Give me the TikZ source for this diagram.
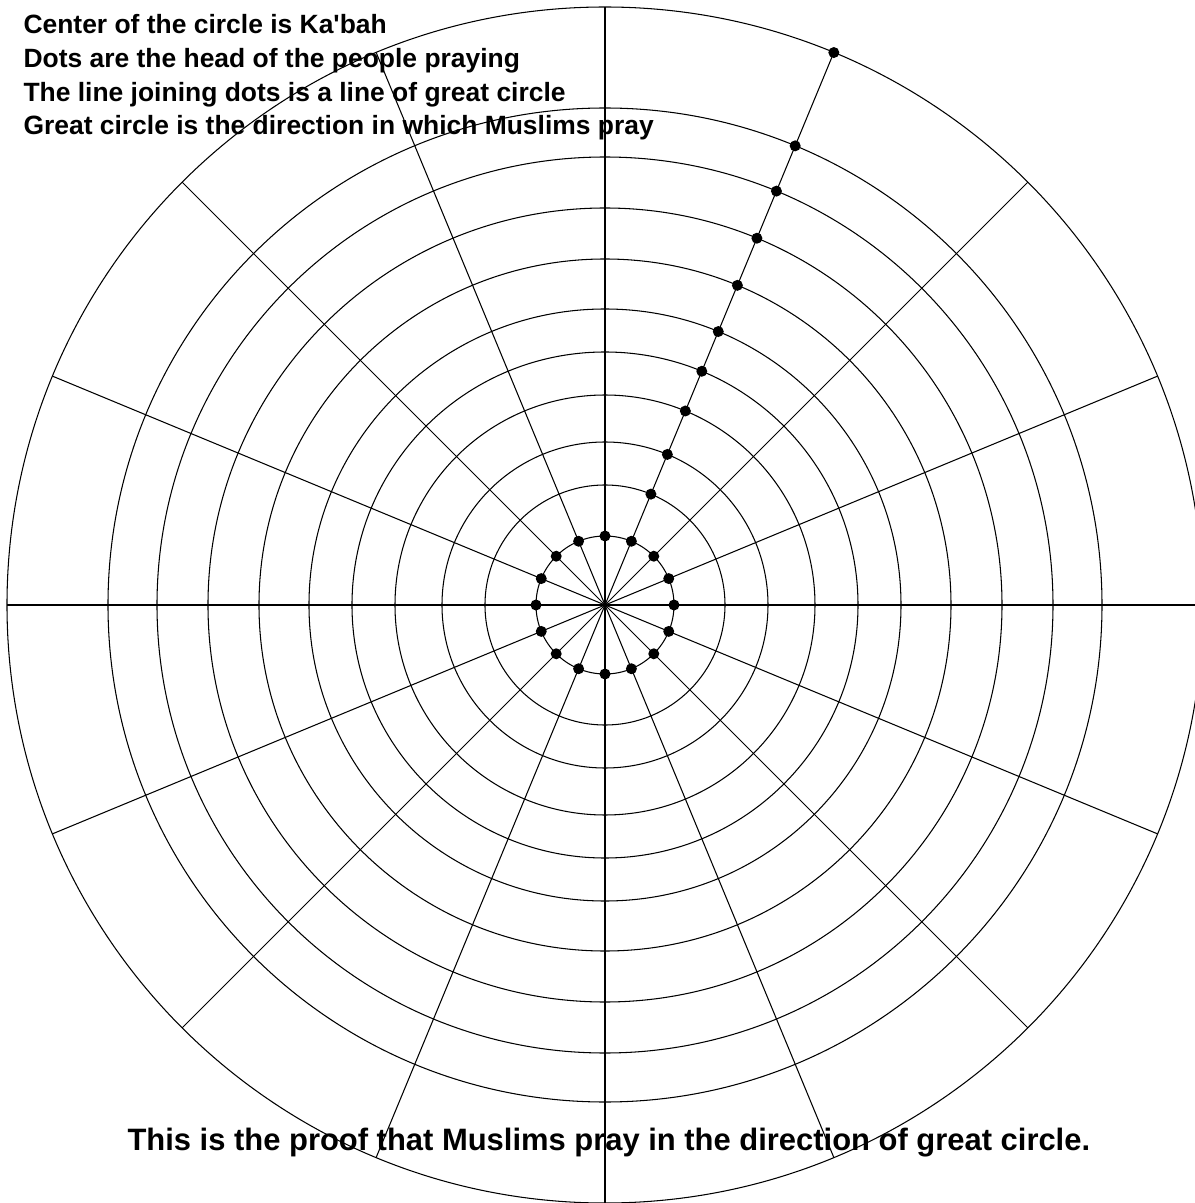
\documentclass[tikz,border=0pt]{standalone}
\usepackage{fontspec}
\setmainfont{Liberation Sans}
\begin{document}
\begin{tikzpicture}[x=0.025cm, y=0.025cm, line width=0.75pt,
  every node/.style={inner sep=0pt},
  note/.style={anchor=base west, font=\fontsize{18.8}{22}\selectfont\bfseries},
  headdot/.style={fill=black}]
\useasboundingbox (-605,-598) rectangle (590,605);
\clip (-605,-598) rectangle (590,605);
\coordinate (kabah) at (0,0);
% rings of people round the Ka'bah
\foreach \r in {69,120,163,210,253,296,346,397,448,497,598} \draw (kabah) circle (\r);
% sixteen great circle lines
\foreach \a in {0,22.5,...,337.5} \draw (kabah) -- (\a:598);
% heads on the first ring
\foreach \a in {0,22.5,...,337.5} \fill[headdot] (\a:69) circle (5.5);
% heads along one line
\foreach \r in {120,163,210,253,296,346,397,448,497,598} \fill[headdot] (67.5:\r) circle (5.5);
% notes
\node[note] (note1) at (-582,571.5) {Center of the circle is Ka\textquotesingle bah};
\node[note] (note2) at (-582,537.5) {Dots are the head of the people praying};
\node[note] (note3) at (-582,503.5) {The line joining dots is a line of great circle};
\node[note] (note4) at (-582,470.5) {Great circle is the direction in which Muslims pray};
\node[anchor=base west, font=\fontsize{22}{26}\selectfont\bfseries] (proof) at (-478,-545) {This is the proof that Muslims pray in the direction of great circle.};
\end{tikzpicture}
\end{document}
